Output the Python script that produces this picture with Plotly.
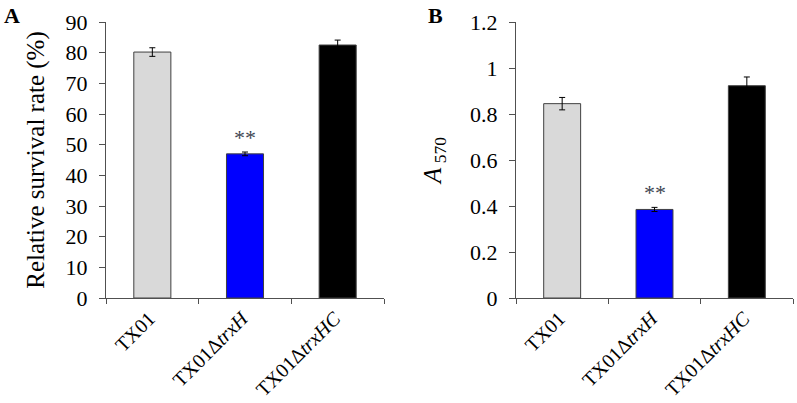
import plotly.graph_objects as go

categories = ["TX01", "TX01Δ<i>trxH</i>", "TX01Δ<i>trxHC</i>"]
survival = [80.2, 47.0, 82.5]
survival_err = [1.4, 0.6, 1.6]
a570 = [0.845, 0.385, 0.923]
a570_err = [0.027, 0.009, 0.038]
bar_colors = ["#D9D9D9", "#0000FF", "#000000"]
a_ticks = [0, 10, 20, 30, 40, 50, 60, 70, 80, 90]
b_ticks = [0, 0.2, 0.4, 0.6, 0.8, 1.0, 1.2]
b_ticklabels = ["0", "0.2", "0.4", "0.6", "0.8", "1", "1.2"]

FONT = "Liberation Serif, Times New Roman, serif"
W, H = 797, 403


def fx(X):
    return X / W


def fy(Y):
    return 1 - Y / H


fig = go.Figure()
fig.add_trace(go.Bar(
    x=categories, y=survival, width=0.4, xaxis="x", yaxis="y",
    marker=dict(color=bar_colors, line=dict(color="#404040", width=1)),
    error_y=dict(type="data", array=survival_err, color="#000000", thickness=1, width=3),
    showlegend=False, hoverinfo="skip",
))
fig.add_trace(go.Bar(
    x=categories, y=a570, width=0.4, xaxis="x2", yaxis="y2",
    marker=dict(color=bar_colors, line=dict(color="#404040", width=1)),
    error_y=dict(type="data", array=a570_err, color="#000000", thickness=1, width=3),
    showlegend=False, hoverinfo="skip",
))

line_common = dict(
    showgrid=False, zeroline=False, showline=True, linecolor="#505050", linewidth=1,
    ticks="outside", tickcolor="#505050", tickwidth=1, automargin=False,
)
xdomA = [fx(106), fx(384)]
xdomB = [fx(516), fx(793)]
ydom = [fy(298), fy(22)]

xaxis_style = dict(tickangle=-45, tickson="boundaries", ticklen=5,
                   ticklabelshift=-3, ticklabelstandoff=0,
                   tickfont=dict(family=FONT, size=20, color="#000000"), **line_common)
yaxis_style = dict(ticklen=6, ticklabelstandoff=7,
                   tickfont=dict(family=FONT, size=22, color="#000000"), **line_common)

fig.update_layout(
    width=W, height=H, margin=dict(l=0, r=0, t=0, b=0),
    paper_bgcolor="white", plot_bgcolor="white",
    font=dict(family=FONT, color="#000000"),
    xaxis=dict(domain=xdomA, anchor="y", **xaxis_style),
    yaxis=dict(domain=ydom, anchor="x", range=[0, 90], tickvals=a_ticks,
               title=dict(text="Relative survival rate (%)", font=dict(family=FONT, size=25), standoff=13),
               **yaxis_style),
    xaxis2=dict(domain=xdomB, anchor="y2", **xaxis_style),
    yaxis2=dict(domain=ydom, anchor="x2", range=[0, 1.2], tickvals=b_ticks, ticktext=b_ticklabels,
                title=dict(text="<i>A</i><sub> 570</sub>", font=dict(family=FONT, size=25), standoff=21),
                **yaxis_style),
    annotations=[
        dict(text="<b>A</b>", x=fx(11.5), y=fy(15), xref="paper", yref="paper",
             xanchor="center", yanchor="middle", showarrow=False, font=dict(family=FONT, size=22)),
        dict(text="<b>B</b>", x=fx(435.5), y=fy(15), xref="paper", yref="paper",
             xanchor="center", yanchor="middle", showarrow=False, font=dict(family=FONT, size=22)),
        dict(text="**", x=categories[1], y=survival[1] + survival_err[1], xref="x", yref="y",
             yanchor="bottom", yshift=0, showarrow=False,
             font=dict(family=FONT, size=22, color="#3E4652")),
        dict(text="**", x=categories[1], y=a570[1] + a570_err[1], xref="x2", yref="y2",
             yanchor="bottom", yshift=0, showarrow=False,
             font=dict(family=FONT, size=22, color="#3E4652")),
    ],
)

fig.write_html("out.html", config={"displayModeBar": False},
               post_script="document.body.style.margin = '0';")
